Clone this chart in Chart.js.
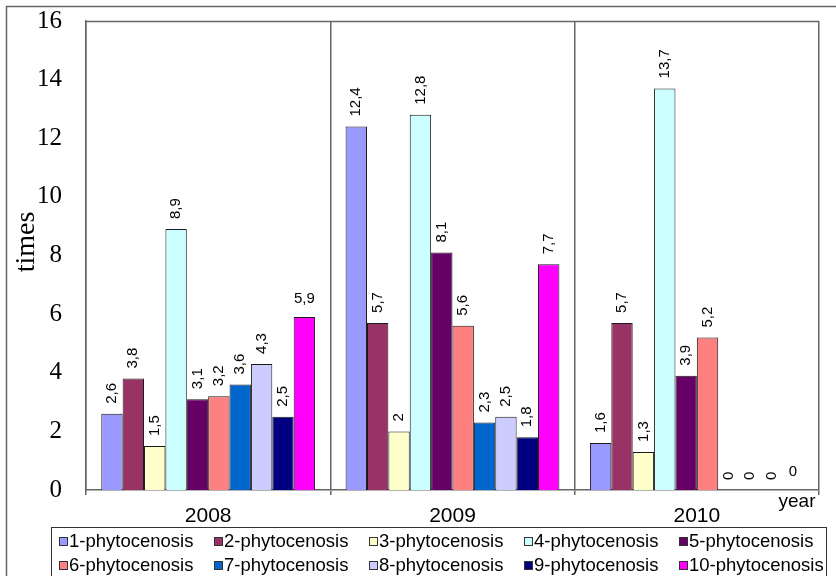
<!DOCTYPE html>
<html>
<head>
<meta charset="utf-8">
<script src="https://cdn.jsdelivr.net/npm/chart.js@4.4.1/dist/chart.umd.min.js"></script>
<style>
  html, body { margin: 0; padding: 0; background: #ffffff; }
  #c { display: block; }
</style>
</head>
<body>
<canvas id="c" width="836" height="576"></canvas>
<script>
// Observation years (categories)
const years = ['2008', '2009', '2010'];

// Number of times per phytocenosis, one value per year
const phyto1  = [2.6, 12.4, 1.6];
const phyto2  = [3.8, 5.7, 5.7];
const phyto3  = [1.5, 2, 1.3];
const phyto4  = [8.9, 12.8, 13.7];
const phyto5  = [3.1, 8.1, 3.9];
const phyto6  = [3.2, 5.6, 5.2];
const phyto7  = [3.6, 2.3, 0];
const phyto8  = [4.3, 2.5, 0];
const phyto9  = [2.5, 1.8, 0];
const phyto10 = [5.9, 7.7, 0];

const seriesNames = [
  '1-phytocenosis', '2-phytocenosis', '3-phytocenosis', '4-phytocenosis', '5-phytocenosis',
  '6-phytocenosis', '7-phytocenosis', '8-phytocenosis', '9-phytocenosis', '10-phytocenosis'
];
const seriesValues = [phyto1, phyto2, phyto3, phyto4, phyto5, phyto6, phyto7, phyto8, phyto9, phyto10];

// Y axis ticks
const yTickValues = [0, 2, 4, 6, 8, 10, 12, 14, 16];

// Fill colours per series
const seriesColors = [
  '#9999FF', '#993366', '#FFFFCC', '#CCFFFF', '#660066',
  '#FF8080', '#0066CC', '#CCCCFF', '#000080', '#FF00FF'
];

// Value labels written horizontally: [seriesIndex, yearIndex]
const uprightLabels = [[9, 0], [9, 2]];

const SANS = '"Liberation Sans", Arial, sans-serif';
const SERIF = '"Liberation Serif", "Times New Roman", serif';
const LINE = '#666666';

const datasets = seriesNames.map((name, i) => ({
  label: name,
  data: seriesValues[i],
  backgroundColor: seriesColors[i],
  borderColor: '#1a1a1a',
  borderWidth: 1,
  barPercentage: 1.0,
  categoryPercentage: 0.875
}));

// Frame around the drawing and the top edge of the plot area
const framePlugin = {
  id: 'frame',
  beforeDraw(chart) {
    const ctx = chart.ctx;
    ctx.save();
    ctx.strokeStyle = LINE;
    ctx.lineWidth = 1.5;
    ctx.beginPath();
    ctx.moveTo(6.5, 576);
    ctx.lineTo(6.5, 6.5);
    ctx.lineTo(836, 6.5);
    ctx.stroke();
    ctx.restore();
  },
  afterDraw(chart) {
    const ctx = chart.ctx;
    const a = chart.chartArea;
    ctx.save();
    ctx.strokeStyle = LINE;
    ctx.lineWidth = 1.5;
    ctx.beginPath();
    ctx.moveTo(a.left, a.top + 0.5);
    ctx.lineTo(a.right, a.top + 0.5);
    ctx.stroke();
    // y axis title
    ctx.fillStyle = '#000';
    ctx.font = '28px ' + SERIF;
    ctx.textAlign = 'center';
    ctx.textBaseline = 'middle';
    ctx.translate(27, 242);
    ctx.rotate(-Math.PI / 2);
    ctx.fillText('times', 0, 0);
    ctx.restore();
    // x axis unit
    ctx.save();
    ctx.fillStyle = '#000';
    ctx.font = '19px ' + SANS;
    ctx.textAlign = 'center';
    ctx.textBaseline = 'middle';
    ctx.fillText('year', 797, 502);
    ctx.restore();
  }
};

// Value labels above each bar
const valueLabelPlugin = {
  id: 'valueLabels',
  afterDatasetsDraw(chart) {
    const ctx = chart.ctx;
    ctx.save();
    ctx.fillStyle = '#000';
    ctx.font = '15px ' + SANS;
    chart.data.datasets.forEach((ds, si) => {
      const meta = chart.getDatasetMeta(si);
      meta.data.forEach((bar, yi) => {
        const v = ds.data[yi];
        const txt = String(v).replace('.', ',');
        const upright = uprightLabels.some(p => p[0] === si && p[1] === yi);
        if (upright) {
          ctx.textAlign = 'center';
          ctx.textBaseline = 'bottom';
          ctx.fillText(txt, bar.x, bar.y - 11);
        } else {
          ctx.save();
          ctx.translate(bar.x, bar.y - 10);
          ctx.rotate(-Math.PI / 2);
          ctx.textAlign = 'left';
          ctx.textBaseline = 'middle';
          ctx.fillText(txt, 0, 0);
          ctx.restore();
        }
      });
    });
    ctx.restore();
  }
};

// Boxed legend laid out in a 5-column grid
const gridLegendPlugin = {
  id: 'gridLegend',
  afterDraw(chart) {
    const ctx = chart.ctx;
    ctx.save();
    ctx.strokeStyle = '#333';
    ctx.lineWidth = 1;
    ctx.strokeRect(51.5, 527.5, 775, 70);
    ctx.font = '18.5px ' + SANS;
    ctx.textAlign = 'left';
    ctx.textBaseline = 'middle';
    chart.data.datasets.forEach((ds, i) => {
      const col = i % 5;
      const row = Math.floor(i / 5);
      const x0 = 59 + col * 155;
      const cy = 541 + row * 24;
      ctx.fillStyle = ds.backgroundColor;
      ctx.fillRect(x0, cy - 4, 8, 8);
      ctx.strokeStyle = '#333';
      ctx.strokeRect(x0 + 0.5, cy - 3.5, 8, 8);
      ctx.fillStyle = '#000';
      ctx.fillText(ds.label, x0 + 10, cy + 1);
    });
    ctx.restore();
  }
};

new Chart(document.getElementById('c'), {
  type: 'bar',
  data: { labels: years, datasets },
  options: {
    responsive: false,
    animation: false,
    events: [],
    layout: { padding: { left: 0, top: 21, right: 17, bottom: 50 } },
    plugins: {
      legend: { display: false },
      tooltip: { enabled: false },
      title: { display: false }
    },
    scales: {
      x: {
        offset: true,
        grid: {
          display: true,
          offset: true,
          drawOnChartArea: true,
          drawTicks: true,
          tickLength: 5,
          color: LINE,
          lineWidth: 1.5
        },
        border: { display: true, color: LINE, width: 1.5 },
        ticks: {
          color: '#000',
          font: { family: SANS, size: 21 },
          padding: 9,
          maxRotation: 0
        },
        afterFit(scale) {
          scale.height = 36;
          scale.paddingLeft = 0;
          scale.paddingRight = 0;
        }
      },
      y: {
        min: 0,
        max: 16,
        afterBuildTicks(scale) { scale.ticks = yTickValues.map(v => ({ value: v })); },
        grid: { display: false, drawTicks: false },
        border: { display: true, color: LINE, width: 1.5 },
        ticks: {
          color: '#000',
          font: { family: SERIF, size: 25 },
          padding: 24
        },
        afterFit(scale) {
          scale.width = 86;
          scale.paddingTop = 0;
          scale.paddingBottom = 0;
        }
      }
    }
  },
  plugins: [framePlugin, valueLabelPlugin, gridLegendPlugin]
});
</script>
</body>
</html>
